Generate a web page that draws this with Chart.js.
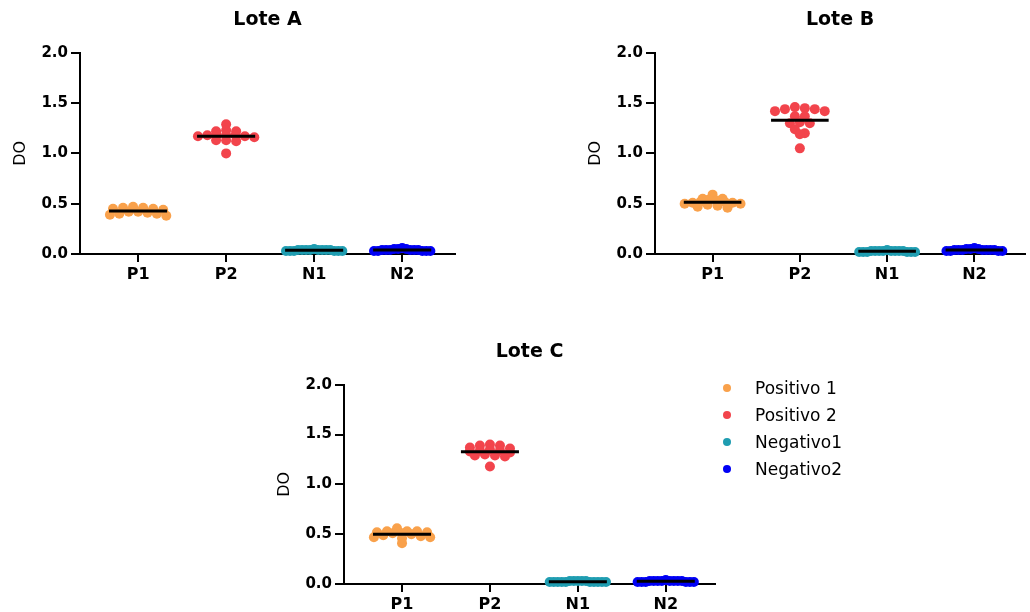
<!DOCTYPE html>
<html>
<head>
<meta charset="utf-8">
<script src="https://cdn.jsdelivr.net/npm/chart.js@4.4.0/dist/chart.umd.min.js"></script>
<style>
  body { margin: 0; background: #fff; width: 1030px; height: 612px; position: relative; overflow: hidden; font-family: "DejaVu Sans", sans-serif; }
  .box { position: absolute; }
  #legend { position: absolute; left: 719px; top: 375px; }
  .item { position: relative; height: 27px; line-height: 27px; font-size: 17px; padding-left: 36px; color: #000; white-space: nowrap; }
  .dot { position: absolute; left: 4px; top: 9px; width: 8px; height: 8px; border-radius: 50%; }
</style>
</head>
<body>
<div class="box" style="left:0px;top:0px;width:470px;height:300px"><canvas id="chartA"></canvas></div>
<div class="box" style="left:575px;top:0px;width:455px;height:300px"><canvas id="chartB"></canvas></div>
<div class="box" style="left:264px;top:330px;width:460px;height:282px"><canvas id="chartC"></canvas></div>
<div id="legend"></div>

<script>
// categorias y series
const groups = ['P1', 'P2', 'N1', 'N2'];
const seriesNames = ['Positivo 1', 'Positivo 2', 'Negativo1', 'Negativo2'];
const colors = ['#F9A14B', '#F2444C', '#1F9DB1', '#0000F5'];
const yTicks = [0, 0.5, 1.0, 1.5, 2.0];

// Lote A (DO)
const loteA_P1 = [0.46, 0.45, 0.44, 0.47, 0.45, 0.46, 0.42, 0.40, 0.41, 0.39, 0.40, 0.38, 0.42];
const loteA_P2 = [1.22, 1.23, 1.22, 1.29, 1.13, 1.13, 1.12, 1.18, 1.17, 1.18, 1.17, 1.18, 1.00, 1.18, 1.16];
const loteA_N1 = [0.03, 0.04, 0.03, 0.04, 0.05, 0.04, 0.03, 0.04, 0.03, 0.04, 0.04, 0.03, 0.04, 0.03, 0.04];
const loteA_N2 = [0.06, 0.05, 0.04, 0.03, 0.04, 0.05, 0.03, 0.04, 0.03, 0.04, 0.05, 0.03, 0.04, 0.04, 0.03];

// Lote B
const loteB_P1 = [0.59, 0.52, 0.48, 0.53, 0.50, 0.52, 0.47, 0.55, 0.51, 0.46, 0.55, 0.50, 0.54, 0.49, 0.51];
const loteB_P2 = [1.42, 1.44, 1.46, 1.45, 1.44, 1.42, 1.37, 1.37, 1.30, 1.31, 1.30, 1.24, 1.20, 1.19, 1.05];
const loteB_N1 = [0.03, 0.02, 0.03, 0.04, 0.02, 0.03, 0.02, 0.03, 0.02, 0.03, 0.02, 0.03, 0.03, 0.02, 0.03];
const loteB_N2 = [0.06, 0.05, 0.04, 0.05, 0.04, 0.03, 0.04, 0.05, 0.03, 0.04, 0.03, 0.04, 0.03, 0.04, 0.04];

// Lote C
const loteC_P1 = [0.56, 0.53, 0.52, 0.51, 0.52, 0.53, 0.51, 0.47, 0.48, 0.47, 0.46, 0.41, 0.50, 0.49, 0.53];
const loteC_P2 = [1.39, 1.40, 1.39, 1.37, 1.36, 1.34, 1.34, 1.33, 1.35, 1.29, 1.28, 1.29, 1.30, 1.18, 1.32];
const loteC_N1 = [0.02, 0.03, 0.02, 0.02, 0.03, 0.02, 0.02, 0.03, 0.02, 0.02, 0.03, 0.02, 0.02, 0.03, 0.02];
const loteC_N2 = [0.04, 0.03, 0.03, 0.02, 0.03, 0.02, 0.03, 0.02, 0.03, 0.02, 0.03, 0.02, 0.03, 0.02, 0.03];

const mean = arr => arr.reduce((a, b) => a + b, 0) / arr.length;

// reparte los puntos en filas (estilo dot plot), los más altos al centro
function swarm(vals, c) {
  const sorted = vals.slice().sort((a, b) => b - a);
  const rows = [];
  sorted.forEach(v => {
    const row = rows[rows.length - 1];
    if (row && row[0] - v < 0.045) row.push(v); else rows.push([v]);
  });
  const pts = [];
  rows.forEach(row => {
    const n = row.length;
    const step = n > 1 ? Math.min(0.114, 0.64 / (n - 1)) : 0;
    const slots = row.map((_, j) => (j - (n - 1) / 2) * step)
      .sort((a, b) => Math.abs(a) - Math.abs(b));
    row.forEach((v, i) => pts.push({ x: c + slots[i], y: v }));
  });
  return pts;
}

const tickFont = { family: 'DejaVu Sans', size: 15, weight: 'bold' };

function makeChart(id, title, sets, cfg) {
  const datasets = [];
  sets.forEach((vals, g) => {
    const c = g + 1;
    datasets.push({
      type: 'scatter', label: seriesNames[g], data: swarm(vals, c),
      backgroundColor: colors[g], borderWidth: 0, pointRadius: 5, clip: false, order: 1
    });
    const m = mean(vals);
    datasets.push({
      type: 'line', data: [{ x: c - 0.33, y: m }, { x: c + 0.33, y: m }],
      borderColor: '#000', borderWidth: 3, pointRadius: 0, clip: false, order: 0
    });
  });

  new Chart(document.getElementById(id), {
    type: 'scatter',
    data: { datasets },
    options: {
      responsive: true,
      maintainAspectRatio: false,
      animation: false,
      layout: { padding: { left: 8, right: cfg.padRight, top: 0, bottom: 0 } },
      plugins: {
        legend: { display: false },
        tooltip: { enabled: false },
        title: {
          display: true, text: title, fullSize: false, color: '#000',
          font: { family: 'DejaVu Sans', size: 19, weight: 'bold' },
          padding: { top: cfg.titleTop, bottom: cfg.titleBottom }
        }
      },
      scales: {
        x: {
          type: 'linear', min: 0.34, max: cfg.xMax,
          afterFit: s => { s.height = cfg.xHeight; },
          afterBuildTicks: s => { s.ticks = groups.map((g, i) => ({ value: i + 1 })); },
          ticks: { callback: v => groups[v - 1], color: '#000', font: { family: 'DejaVu Sans', size: 16, weight: 'bold' }, padding: 3, autoSkip: false, maxRotation: 0 },
          grid: { drawOnChartArea: false, tickLength: 8, color: '#000', lineWidth: 2 },
          border: { color: '#000', width: 2 }
        },
        y: {
          min: 0, max: 2,
          afterFit: s => { s.width = 72; },
          afterBuildTicks: s => { s.ticks = yTicks.map(v => ({ value: v })); },
          ticks: { callback: v => v.toFixed(1), color: '#000', font: tickFont, padding: 3 },
          grid: { drawOnChartArea: false, tickLength: 9, color: '#000', lineWidth: 2 },
          border: { color: '#000', width: 2 },
          title: { display: true, text: 'DO', color: '#000', font: { family: 'DejaVu Sans', size: 16 }, padding: { top: 3, bottom: 0 } }
        }
      }
    }
  });
}

makeChart('chartA', 'Lote A', [loteA_P1, loteA_P2, loteA_N1, loteA_N2],
  { padRight: 15, xMax: 4.60, xHeight: 46, titleTop: 9, titleBottom: 21 });
makeChart('chartB', 'Lote B', [loteB_P1, loteB_P2, loteB_N1, loteB_N2],
  { padRight: 2, xMax: 4.58, xHeight: 46, titleTop: 9, titleBottom: 21 });
makeChart('chartC', 'Lote C', [loteC_P1, loteC_P2, loteC_N1, loteC_N2],
  { padRight: 9, xMax: 4.56, xHeight: 28, titleTop: 11, titleBottom: 21 });

// leyenda
const legend = document.getElementById('legend');
seriesNames.forEach((name, i) => {
  const item = document.createElement('div');
  item.className = 'item';
  const dot = document.createElement('span');
  dot.className = 'dot';
  dot.style.background = colors[i];
  item.appendChild(dot);
  item.appendChild(document.createTextNode(name));
  legend.appendChild(item);
});
</script>
</body>
</html>
